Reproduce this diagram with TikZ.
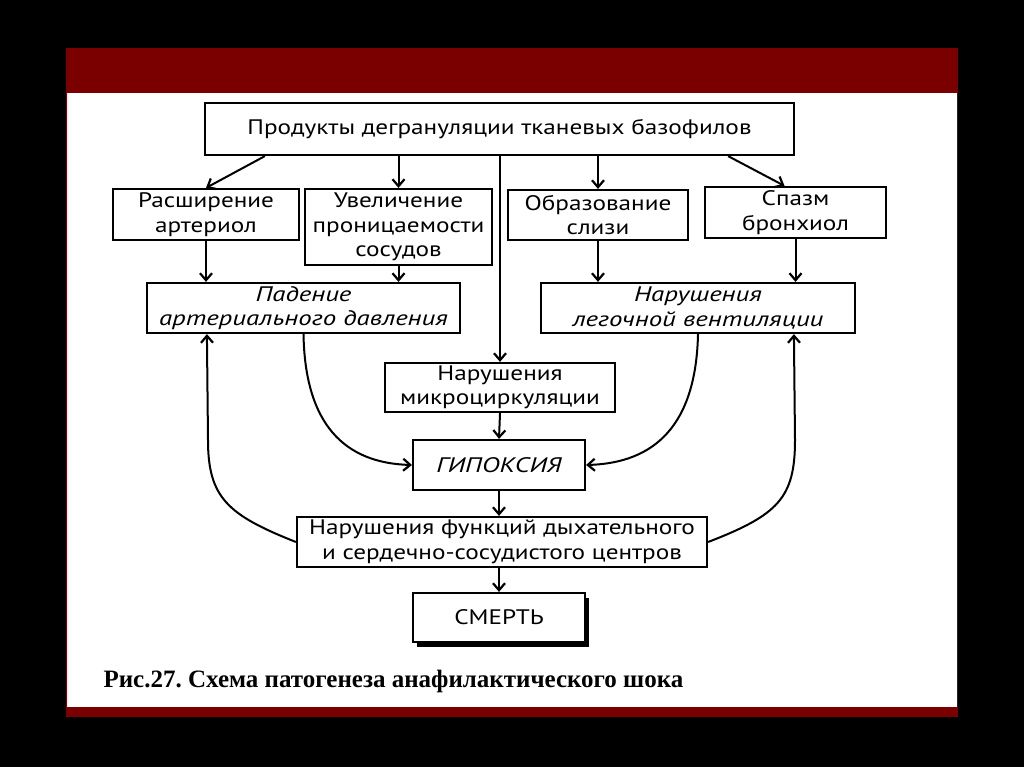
\documentclass[tikz,border=0pt]{standalone}
\usepackage{fontspec}
\setmainfont{PT Sans}[FakeStretch=1.2]
\newfontfamily\itfont{PT Sans}[FakeStretch=1.28]
\newfontfamily\capfont{Liberation Serif}
\usetikzlibrary{arrows.meta,calc,shadows}
\definecolor{band}{RGB}{122,0,0}
\frenchspacing
\begin{document}
\begin{tikzpicture}[x=1pt,y=-1pt,
  box/.style={draw,line width=2.2pt,fill=white,align=center,inner sep=0pt,font=\fontsize{21}{24.5}\selectfont},
  ibox/.style={box,font=\itfont\itshape\fontsize{21}{24.5}\selectfont},
  ar/.style={line width=2pt,-{Straight Barb[length=7pt,width=12pt,line width=2.2pt]}},
  ln/.style={line width=2pt}]
\fill[black] (0,0) rectangle (1024,767);
\fill[band] (66,48) rectangle (958,717);
\fill[white] (67,93) rectangle (957,707);

\node[box,minimum width=589pt,minimum height=52pt] (top) at (499.5,129) {Продукты дегрануляции тканевых базофилов};
\node[box,minimum width=186pt,minimum height=51pt] (ras) at (206,214.5) {Расширение\\артериол};
\node[box,minimum width=187pt,minimum height=76pt] (uvel) at (398.5,227) {Увеличение\\проницаемости\\сосудов};
\node[box,minimum width=180pt,minimum height=50pt] (obr) at (598,215) {Образование\\слизи};
\node[box,minimum width=181pt,minimum height=51pt] (spazm) at (795.5,212.5) {Спазм\\бронхиол};
\node[ibox,minimum width=313pt,minimum height=50pt] (pad) at (303.5,308) {Падение\\артериального давления};
\node[ibox,minimum width=314pt,minimum height=50pt] (vent) at (698,308) {Нарушения\\легочной вентиляции};
\node[box,minimum width=230pt,minimum height=49pt] (micro) at (500,387.5) {Нарушения\\микроциркуляции};
\node[ibox,minimum width=172pt,minimum height=50pt] (gip) at (499,465) {ГИПОКСИЯ};
\node[box,minimum width=410pt,minimum height=50pt] (func) at (502,542) {Нарушения функций дыхательного\\и сердечно-сосудистого центров};
\node[box,minimum width=172pt,minimum height=49pt,drop shadow={shadow xshift=4pt,shadow yshift=-5pt,fill=black,opacity=1}] (smert) at (499,617.5) {СМЕРТЬ};

\node[anchor=west,font=\capfont\bfseries\fontsize{25}{30}\selectfont] (cap) at (100,681) {Рис.27. Схема патогенеза анафилактического шока};

% from top box
\draw[ar] ($(top.south west)+(61,0)$) -- (ras.north);
\draw[ar] (top.south -| uvel.north) -- (uvel.north);
\draw[ar] (top.south -| micro.north) -- (micro.north);
\draw[ar] (top.south -| obr.north) -- (obr.north);
\draw[ar] ($(top.south east)+(-67,0)$) -- ($(spazm.north)+(-11,0)$);
% to second row
\draw[ar] (ras.south) -- (ras.south |- pad.north);
\draw[ar] (uvel.south) -- (uvel.south |- pad.north);
\draw[ar] (obr.south) -- (obr.south |- vent.north);
\draw[ar] (spazm.south) -- (spazm.south |- vent.north);
% to hypoxia
\draw[ar] (pad.south) .. controls (305,425) and (345,463) .. (gip.west);
\draw[ar] (vent.south) .. controls (696,425) and (655,463) .. (gip.east);
\draw[ar] (micro.south) -- (gip.north);
\draw[ar] (gip.south) -- (func.north -| gip.south);
\draw[ar] (func.south -| smert.north) -- (smert.north);
% feedback
\draw[ar] (func.west) .. controls (228,515) and (208,498) .. (208,440) -- ($(pad.south west)+(61,0)$);
\draw[ar] (func.east) .. controls (778,515) and (795,498) .. (795,440) -- ($(vent.south west)+(254,0)$);
\end{tikzpicture}
\end{document}
